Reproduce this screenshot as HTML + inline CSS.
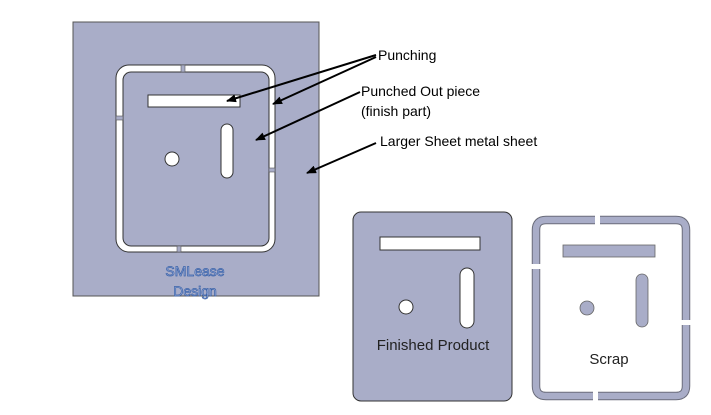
<!DOCTYPE html>
<html><head><style>body{margin:0;background:#fff}svg{display:block}</style></head>
<body>
<svg width="711" height="415" viewBox="0 0 711 415" xmlns="http://www.w3.org/2000/svg" font-family="Liberation Sans, sans-serif">
<defs><marker id="a" markerWidth="10" markerHeight="8" refX="9" refY="4" orient="auto" markerUnits="userSpaceOnUse"><path d="M0,0 L10,4 L0,8 z" fill="#000"/></marker></defs>
<rect x="73" y="22" width="246" height="274" fill="#a9adc8" stroke="#555" stroke-width="1"/>
<rect x="116" y="65" width="159" height="187" rx="13" fill="#fff" stroke="#333" stroke-width="1"/>
<rect x="123" y="72" width="146" height="174" rx="8" fill="#a9adc8" stroke="#333" stroke-width="1"/>
<rect x="181" y="65" width="4" height="7" fill="#a9adc8" stroke="#555" stroke-width="0.6"/>
<rect x="177" y="246" width="4" height="6" fill="#a9adc8" stroke="#555" stroke-width="0.6"/>
<rect x="116" y="116" width="7" height="4" fill="#a9adc8" stroke="#555" stroke-width="0.6"/>
<rect x="269" y="168" width="6" height="4" fill="#a9adc8" stroke="#555" stroke-width="0.6"/>
<rect x="148" y="95" width="92" height="12" fill="#fff" stroke="#333"/>
<rect x="221" y="124" width="12" height="54" rx="6" fill="#fff" stroke="#333"/>
<circle cx="172" cy="159" r="7" fill="#fff" stroke="#333"/>
<text x="195" y="276" font-size="14" text-anchor="middle" fill="#a9b8e0" stroke="#3a62a8" stroke-width="0.7">SMLease</text>
<text x="195" y="296" font-size="14" text-anchor="middle" fill="#a9b8e0" stroke="#3a62a8" stroke-width="0.7">Design</text>
<g stroke="#000" stroke-width="2" fill="none" marker-end="url(#a)">
<line x1="376" y1="55" x2="227" y2="101"/>
<line x1="376" y1="57" x2="273" y2="104"/>
<line x1="360" y1="92" x2="256" y2="140"/>
<line x1="376" y1="143" x2="307" y2="173"/>
</g>
<g font-size="14" fill="#000">
<text x="378" y="60">Punching</text>
<text x="361" y="96">Punched Out piece</text>
<text x="361" y="116">(finish part)</text>
<text x="380" y="146">Larger Sheet metal  sheet</text>
</g>
<rect x="353" y="212" width="159" height="189" rx="8" fill="#a9adc8" stroke="#333"/>
<rect x="380" y="237" width="100" height="13" fill="#fff" stroke="#333"/>
<rect x="460" y="268" width="14" height="60" rx="7" fill="#fff" stroke="#333"/>
<circle cx="406" cy="307" r="7" fill="#fff" stroke="#333"/>
<text x="433" y="350" font-size="15" text-anchor="middle" fill="#222">Finished Product</text>
<g fill="none" stroke="#6a6c7a" stroke-width="8.5" stroke-linecap="butt">
<path d="M595,220 H546 Q536,220 536,230 V264"/>
<path d="M600,220 H676 Q686,220 686,230 V320"/>
<path d="M536,269 V386 Q536,396 546,396 H593"/>
<path d="M686,325 V386 Q686,396 676,396 H598"/>
</g>
<g fill="none" stroke="#a9adc8" stroke-width="6.5" stroke-linecap="butt">
<path d="M595,220 H546 Q536,220 536,230 V264"/>
<path d="M600,220 H676 Q686,220 686,230 V320"/>
<path d="M536,269 V386 Q536,396 546,396 H593"/>
<path d="M686,325 V386 Q686,396 676,396 H598"/>
</g>
<rect x="563" y="245" width="92" height="12" fill="#a9adc8" stroke="#666" stroke-width="0.8"/>
<rect x="636" y="274" width="12" height="53" rx="6" fill="#a9adc8" stroke="#666" stroke-width="0.8"/>
<circle cx="587" cy="308" r="7" fill="#a9adc8" stroke="#666" stroke-width="0.8"/>
<text x="609" y="364" font-size="15" text-anchor="middle" fill="#222">Scrap</text>
</svg>
</body></html>
